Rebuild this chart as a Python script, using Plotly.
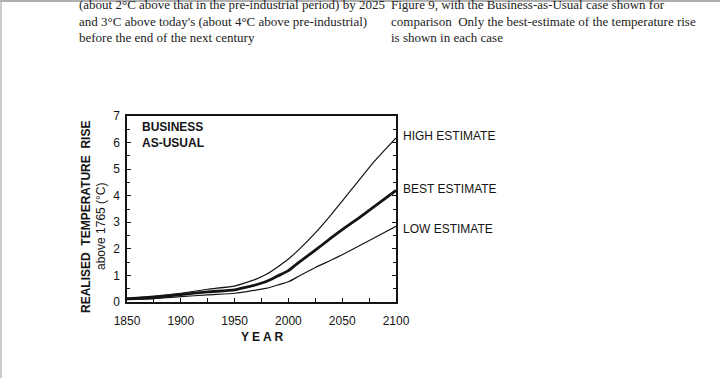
import plotly.graph_objects as go

years = [1850, 1875, 1900, 1925, 1950, 1960, 1970, 1980, 1990, 2000, 2010, 2025, 2040, 2050, 2065, 2080, 2100]
high = [0.15, 0.22, 0.33, 0.48, 0.60, 0.72, 0.86, 1.05, 1.32, 1.62, 1.98, 2.60, 3.30, 3.80, 4.55, 5.30, 6.18]
best = [0.12, 0.17, 0.28, 0.38, 0.46, 0.55, 0.65, 0.78, 0.98, 1.18, 1.50, 1.95, 2.42, 2.72, 3.15, 3.60, 4.20]
low = [0.10, 0.13, 0.20, 0.27, 0.33, 0.38, 0.45, 0.52, 0.64, 0.76, 0.98, 1.30, 1.58, 1.78, 2.10, 2.42, 2.85]

x_ticks = [1850, 1900, 1950, 2000, 2050, 2100]
y_ticks = [0, 1, 2, 3, 4, 5, 6, 7]

series_labels = ["HIGH ESTIMATE", "BEST ESTIMATE", "LOW ESTIMATE"]
label_values = [6.24, 4.25, 2.74]

top_left_text = ["(about 2°C above that in the pre-industrial period) by 2025",
                 "and 3°C above today's (about 4°C above pre-industrial)",
                 "before the end of the next century"]
top_right_text = ["Figure 9, with the Business-as-Usual case shown for",
                  "comparison  Only the best-estimate of the temperature rise",
                  "is shown in each case"]

sans = "Liberation Sans, Arial, sans-serif"
serif = "Liberation Serif, Times New Roman, serif"
ink = "#141414"

fig = go.Figure()
for vals, w in [(high, 1.2), (best, 2.8), (low, 1.2)]:
    fig.add_trace(go.Scatter(x=years, y=vals, mode="lines",
                             line=dict(color=ink, width=w, shape="spline", smoothing=0.5),
                             showlegend=False, hoverinfo="skip"))

fig.update_layout(
    width=720, height=378,
    margin=dict(l=127, r=324, t=116, b=76),
    paper_bgcolor="white", plot_bgcolor="white",
    font=dict(family=sans, size=12, color=ink),
    xaxis=dict(range=[1850, 2100], tickvals=x_ticks, ticktext=[str(v) for v in x_ticks],
               showgrid=False, zeroline=False, showline=True, linecolor=ink, linewidth=1.5,
               mirror=True, ticks="inside", ticklen=4, tickcolor=ink, tickwidth=1.2,
               ticklabelstandoff=7,
               minor=dict(dtick=25, tick0=1850, ticks="inside", ticklen=4, tickcolor=ink, tickwidth=1.2),
               tickfont=dict(family=sans, size=12, color=ink)),
    yaxis=dict(range=[0, 7], tickvals=y_ticks, ticktext=[str(v) for v in y_ticks],
               showgrid=False, zeroline=False, showline=True, linecolor=ink, linewidth=1.5,
               mirror="ticks", ticks="inside", ticklen=4, tickcolor=ink, tickwidth=1.2,
               ticklabelstandoff=3,
               minor=dict(dtick=0.5, tick0=0, ticks="inside", ticklen=3, tickcolor=ink, tickwidth=1.2),
               tickfont=dict(family=sans, size=12, color=ink)),
)

# series labels on the right
for lab, v in zip(series_labels, label_values):
    fig.add_annotation(x=1, xref="paper", xshift=5, y=v, yref="y", text=lab, showarrow=False,
                       xanchor="left", yanchor="middle", font=dict(family=sans, size=12, color=ink))

# in-plot title
fig.add_annotation(x=1862, y=6.27, xref="x", yref="y", text="<b>BUSINESS<br>AS-USUAL</b>",
                   showarrow=False, xanchor="left", yanchor="middle", align="left",
                   font=dict(family=sans, size=12, color=ink))

pw, ph = 720 - 127 - 324, 378 - 116 - 76


def px(xp):
    return (xp - 127) / pw


def py(yp):
    return (378 - yp - 76) / ph


# axis titles
fig.add_annotation(x=px(86), y=py(217), xref="paper", yref="paper", text="<b>REALISED  TEMPERATURE  RISE</b>",
                   textangle=-90, showarrow=False, xanchor="center", yanchor="middle",
                   font=dict(family=sans, size=12, color=ink))
fig.add_annotation(x=px(101), y=py(226), xref="paper", yref="paper", text="above 1765 (°C)",
                   textangle=-90, showarrow=False, xanchor="center", yanchor="middle",
                   font=dict(family=sans, size=12, color=ink))
fig.add_annotation(x=px(262), y=py(337), xref="paper", yref="paper", text="<b>Y E A R</b>",
                   showarrow=False, xanchor="center", yanchor="middle",
                   font=dict(family=sans, size=12, color=ink))

# top text columns
for i, (lt, rt) in enumerate(zip(top_left_text, top_right_text)):
    ypix = 4 + 17 * i
    for txt, xpix in [(lt, 77), (rt, 389)]:
        fig.add_annotation(x=px(xpix), y=py(ypix), xref="paper", yref="paper",
                           text=txt, showarrow=False, xanchor="left", yanchor="middle",
                           font=dict(family=serif, size=13, color="#222"))

# scan border
fig.add_shape(type="rect", xref="paper", yref="paper",
              x0=px(0), x1=px(720), y0=py(2), y1=py(0),
              fillcolor="#b0b0b0", line=dict(width=0), layer="above")
fig.add_shape(type="line", xref="paper", yref="paper",
              x0=px(1), x1=px(1), y0=py(378), y1=py(0),
              line=dict(color="#b8b8b8", width=1.5))

fig.write_html("out.html", config={"displayModeBar": False},
               post_script="document.body.style.margin='0';document.body.style.padding='0';")
